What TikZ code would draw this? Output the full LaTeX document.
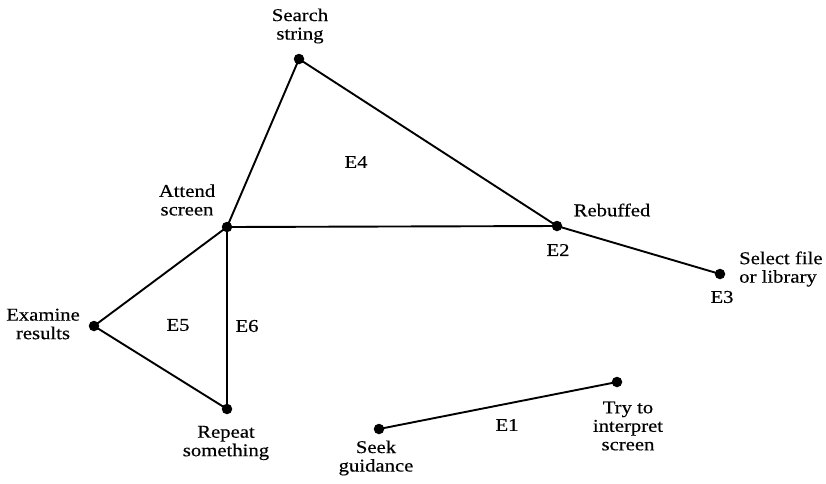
\documentclass[tikz,border=0pt]{standalone}
\usepackage{fontspec}
\setmainfont{Liberation Serif}[FakeStretch=1.15,FakeBold=0.4]
\begin{document}
\begin{tikzpicture}[x=1pt,y=-1pt,
  dot/.style={circle,fill=black,inner sep=0pt,minimum size=10.5pt},
  edge/.style={line width=1.9pt},
  lbl/.style={align=center,inner sep=0pt,font=\fontsize{18}{18.5}\selectfont}]
\useasboundingbox (0,0) rectangle (826,483);
% vertices
\node[dot] (search) at (299,59) {};
\node[dot] (attend) at (227,227) {};
\node[dot] (rebuff) at (557,226) {};
\node[dot] (select) at (720,274) {};
\node[dot] (examine) at (94,326) {};
\node[dot] (repeat) at (227,409) {};
\node[dot] (seek) at (379,429) {};
\node[dot] (try) at (617,382) {};
% edges
\draw[edge] (search.center) -- (attend.center);
\draw[edge] (search.center) -- (rebuff.center);
\draw[edge] (attend.center) -- (rebuff.center);
\draw[edge] (rebuff.center) -- (select.center);
\draw[edge] (attend.center) -- (examine.center);
\draw[edge] (attend.center) -- (repeat.center);
\draw[edge] (examine.center) -- (repeat.center);
\draw[edge] (seek.center) -- (try.center);
% labels
\node[lbl] (tsearch) at (300,26) {Search\\string};
\node[lbl] (tattend) at (187,200) {Attend\\screen};
\node[lbl] (trebuff) at (612,210) {Rebuffed};
\node[lbl,align=left,anchor=west] (tselect) at (739,269) {Select file\\or library};
\node[lbl] (texamine) at (43,324) {Examine\\results};
\node[lbl] (trepeat) at (226,443) {Repeat\\something};
\node[lbl] (tseek) at (376,458) {Seek\\guidance};
\node[lbl] (ttry) at (628,426) {Try to\\interpret\\screen};
\node[lbl] (e1) at (507,425) {E1};
\node[lbl] (e2) at (558,250) {E2};
\node[lbl] (e3) at (722,297) {E3};
\node[lbl] (e4) at (356,162) {E4};
\node[lbl] (e5) at (178,325) {E5};
\node[lbl] (e6) at (247,326) {E6};
\end{tikzpicture}
\end{document}
